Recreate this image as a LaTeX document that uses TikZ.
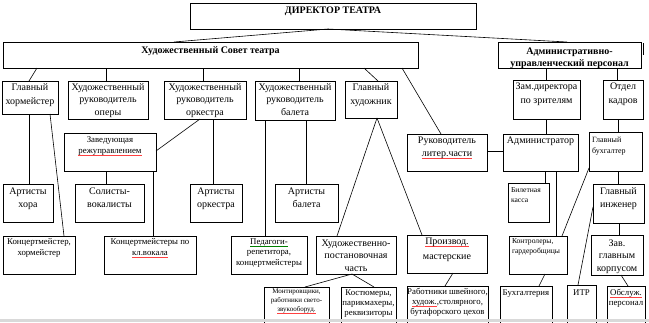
\documentclass[tikz,border=0pt]{standalone}
\usepackage{fontspec}
\setmainfont{Liberation Serif}
\tikzset{
  bx/.style={draw, line width=0.6pt, inner sep=0pt, outer sep=0pt, anchor=north west},
  ln/.style={line width=0.6pt},
}
\newcommand\fB{\bfseries\fontsize{10}{12}\selectfont}
\newcommand\fN{\fontsize{10}{13.5}\selectfont}
\newcommand\fS{\fontsize{8.8}{11}\selectfont}
\newcommand\fT{\fontsize{7.6}{10}\selectfont}
\newcommand\fM{\fontsize{7}{9}\selectfont}
% width, height, font/alignment, first baseline, text
\newcommand\T[5]{\parbox[c][#2pt][t]{#1pt}{#3\rule{0pt}{#4pt}#5}}
\newcommand\C{\centering}
\newcommand\Lf{\raggedright\leftskip=3pt }
% spell-check underlines as shown in the reference
\newcommand\sqr[1]{\leavevmode\setbox0\hbox{#1}\rlap{\color{red!75}\rule[-2pt]{\wd0}{0.5pt}}#1}
\newcommand\sqg[1]{\leavevmode\setbox0\hbox{#1}\rlap{\color{green!50!black}\rule[-2pt]{\wd0}{0.5pt}}#1}
\begin{document}
\begin{tikzpicture}[x=1pt,y=-1pt]
\useasboundingbox (0,0) rectangle (649,322);
% top level
\node[bx] (dir) at (190,3) {\T{286}{26}{\C\fB}{10.5}{ДИРЕКТОР ТЕАТРА}};
\node[bx] (cou) at (3,42) {\T{415}{26}{\C\fB}{11.5}{Художественный Совет театра}};
\node[bx] (adm) at (498,42) {\T{143}{26}{\C\fB}{12.5}{Административно-\\управленческий персонал}};
% row 1
\node[bx] (hor) at (2,81) {\T{56}{33}{\C\fN\baselineskip=14pt}{9.5}{Главный\\хормейстер}};
\node[bx] (opr) at (68,81) {\T{80}{38}{\C\fN\baselineskip=12.5pt}{9}{Художественный\\руководитель\\оперы}};
\node[bx] (orc) at (164,81) {\T{82}{38}{\C\fN\baselineskip=12.5pt}{9}{Художественный\\руководитель\\оркестра}};
\node[bx] (bal) at (255,81) {\T{80}{39}{\C\fN\baselineskip=12.5pt}{9}{Художественный\\руководитель\\балета}};
\node[bx] (hud) at (345,81) {\T{52}{37}{\C\fN}{9.5}{Главный\\художник}};
\node[bx] (zam) at (513,80) {\T{67}{39}{\C\fN\baselineskip=14pt}{9.5}{Зам.директора\\по зрителям}};
\node[bx] (kad) at (603,80) {\T{40}{39}{\C\fN\baselineskip=14pt}{9.5}{Отдел\\кадров}};
% row 2
\node[bx] (zav) at (64,133) {\T{92}{38}{\C\fS}{9}{Заведующая\\\sqr{режуправлением}}};
\node[bx] (lit) at (407,134) {\T{80}{37}{\C\fN}{9}{Руководитель\\\sqr{литер.части}}};
\node[bx] (adr) at (503,134) {\T{75}{37}{\C\fN}{9}{Администратор}};
\node[bx] (buh) at (589,132) {\T{53}{39}{\Lf\fontsize{8}{11}\selectfont}{10}{Главный\\бухгалтер}};
% row 3
\node[bx] (ahr) at (3,184) {\T{50}{38}{\C\fN\baselineskip=13pt}{10}{Артисты\\хора}};
\node[bx] (sol) at (75,184) {\T{69}{38}{\C\fN\baselineskip=13pt}{10}{Солисты-\\вокалисты}};
\node[bx] (aor) at (190,184) {\T{52}{38}{\C\fN\baselineskip=13pt}{10}{Артисты\\оркестра}};
\node[bx] (aba) at (275,184) {\T{63}{38}{\C\fN\baselineskip=13pt}{10}{Артисты\\балета}};
\node[bx] (kas) at (508,183) {\T{41}{39}{\Lf\fT}{9}{Билетная\\касса}};
\node[bx] (ing) at (593,184) {\T{51}{39}{\C\fN\baselineskip=13pt}{10}{Главный\\инженер}};
% row 4
\node[bx] (kh) at (3,236) {\T{72}{38}{\C\fS}{8}{Концертмейстер,\\хормейстер}};
\node[bx] (kv) at (104,236) {\T{92}{38}{\C\fS}{8}{Концертмейстеры по\\\sqr{кл.вокала}}};
\node[bx] (ped) at (231,236) {\T{76}{38}{\C\fS\baselineskip=10.5pt}{8}{\sqg{Педагоги-}\\репетитора,\\концертмейстеры}};
\node[bx] (hpc) at (316,236) {\T{80}{38}{\C\fN\baselineskip=12.5pt}{10}{Художественно-\\постановочная\\часть}};
\node[bx] (prm) at (407,235) {\T{80}{38}{\C\fN\baselineskip=15pt}{9.5}{\sqr{Производ.}\\мастерские}};
\node[bx] (kon) at (509,236) {\T{58}{38}{\Lf\fT}{7.5}{Контролеры,\\гардеробщицы}};
\node[bx] (zk) at (591,235) {\T{52}{40}{\C\fN\baselineskip=12.5pt}{11}{Зав.\\главным\\корпусом}};
% bottom row
\node[bx] (mon) at (264,287) {\T{65}{45}{\C\fM}{6}{Монтировщики,\\работники свето-\\\sqr{звукооборуд.}}};
\node[bx] (kos) at (341,287) {\T{55}{45}{\C\fS\baselineskip=10pt}{8}{Костюмеры,\\парикмахеры,\\реквизиторы}};
\node[bx] (rab) at (407,286) {\T{81}{46}{\C\fS\baselineskip=10pt}{8}{Работники швейного,\\\sqr{худож.},столярного,\\бутафорского цехов}};
\node[bx] (bhg) at (500,286) {\T{52}{46}{\C\fS}{9}{Бухгалтерия}};
\node[bx] (itr) at (567,285) {\T{29}{47}{\C\fS}{10}{ИТР}};
\node[bx] (obs) at (607,286) {\T{38}{46}{\C\fS\baselineskip=10pt}{9}{\sqr{Обслуж.}\\персонал}};
% connectors
\draw[ln] (dir.south -| 328,0) -- (cou.north -| 174,0);
\draw[ln] (dir.south -| 328,0) -- (adm.north -| 567,0);
\draw[ln] (cou.south -| 37,0) -- (hor.north -| 29,0);
\draw[ln] (cou.south -| 106,0) -- (opr.north -| 106,0);
\draw[ln] (cou.south -| 203,0) -- (orc.north -| 203,0);
\draw[ln] (cou.south -| 299,0) -- (bal.north -| 299,0);
\draw[ln] (cou.south -| 364,0) -- (hud.north -| 378,0);
\draw[ln] (cou.south -| 402,0) -- (lit.north -| 441,0);
\draw[ln] (adm.south -| 546,0) -- (zam.north -| 546,0);
\draw[ln] (adm.south -| 617,0) -- (kad.north -| 617,0);
\draw[ln] (orc.south -| 200,0) -- (zav.east |- 0,151);
\draw[ln] (hor.south -| 29,0) -- (ahr.north -| 29,0);
\draw[ln] (hor.south -| 50,0) -- (kh.north -| 64,0);
\draw[ln] (zav.south -| 106,0) -- (sol.north -| 106,0);
\draw[ln] (zav.south -| 153,0) -- (kv.north -| 153,0);
\draw[ln] (orc.south -| 213,0) -- (aor.north -| 213,0);
\draw[ln] (bal.south -| 265,0) -- (ped.north -| 265,0);
\draw[ln] (bal.south -| 306,0) -- (aba.north -| 306,0);
\draw[ln] (hud.south -| 377,0) -- (hpc.north -| 337,0);
\draw[ln] (hud.south -| 377,0) -- (prm.north -| 422,0);
\draw[ln] (zam.south -| 546,0) -- (adr.north -| 546,0);
\draw[ln] (lit.east |- 0,151) -- (adr.west |- 0,151);
\draw[ln] (kad.south -| 618,0) -- (buh.north -| 618,0);
\draw[ln] (adr.south -| 545,0) -- (kas.north -| 545,0);
\draw[ln] (adr.south -| 556,0) -- (kon.north -| 556,0);
\draw[ln] (buh.west |- 0,168) -- (kon.north -| 562,0);
\draw[ln] (buh.south -| 618,0) -- (ing.north -| 618,0);
\draw[ln] (ing.south -| 619,0) -- (zk.north -| 619,0);
\draw[ln] (ing.west |- 0,207) -- (itr.north -| 578,0);
\draw[ln] (hpc.south -| 352,0) -- (mon.north -| 305,0);
\draw[ln] (hpc.south -| 352,0) -- (kos.north -| 374,0);
\draw[ln] (prm.south -| 453,0) -- (rab.north -| 445,0);
\draw[ln] (kon.south -| 545,0) -- (bhg.north -| 539,0);
\draw[ln] (zk.south -| 621,0) -- (obs.north -| 628,0);
% marks of the original
\draw[line width=1.2pt] (643.5,43) -- (643.5,55);
\fill[black!15] (0,319) rectangle (649,322);
\end{tikzpicture}
\end{document}
